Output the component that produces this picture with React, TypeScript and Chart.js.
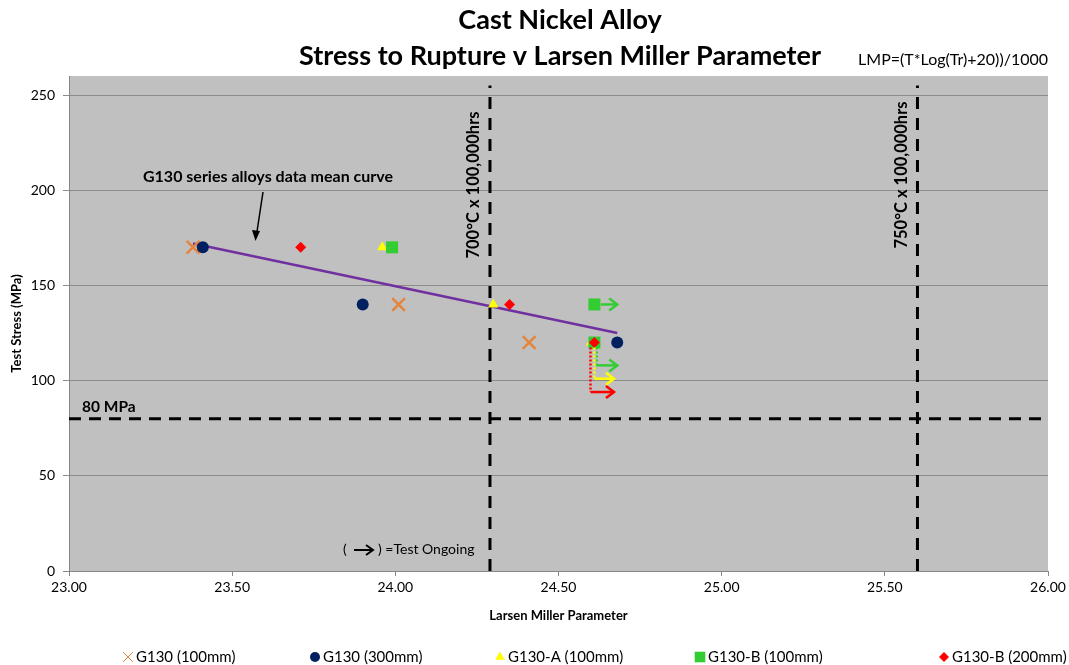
import React, { useEffect, useRef } from 'react';
import { Chart, registerables } from 'chart.js';
import { drawPoint } from 'chart.js/helpers';

Chart.register(...registerables);

// ---------- data ----------
const seriesNames = ['G130 (100mm)', 'G130 (300mm)', 'G130-A (100mm)', 'G130-B (100mm)', 'G130-B (200mm)'];

const g130_100mm_lmp = [23.38, 24.01, 24.41];
const g130_100mm_stress = [170, 140, 120];

const g130_300mm_lmp = [23.41, 23.9, 24.68];
const g130_300mm_stress = [170, 140, 120];

const g130A_100mm_lmp = [23.96, 24.3, 24.6];
const g130A_100mm_stress = [170, 140, 120];

const g130B_100mm_lmp = [23.99, 24.61, 24.61];
const g130B_100mm_stress = [170, 140, 120];

const g130B_200mm_lmp = [23.71, 24.35, 24.61];
const g130B_200mm_stress = [170, 140, 120];

// mean curve
const meanCurveLmp = [23.38, 24.68];
const meanCurveStress = [172, 125];

// reference lines
const line700Lmp = 24.29;
const line750Lmp = 25.6;
const refLineTopStress = 255;
const stressLimit = 80;

// tests ongoing (arrows)
const ongoingSeries = [3, 3, 2, 4];
const ongoingStartLmp = [24.63, 24.617, 24.61, 24.598];
const ongoingStartStress = [140, 120, 120, 120];
const ongoingLevelStress = [140, 108, 101, 94];
const ongoingEndLmp = [24.68, 24.68, 24.67, 24.67];

// axes
const xMin = 23.0;
const xMax = 26.0;
const xStep = 0.5;
const yMin = 0;
const yMax = 260;
const yStep = 50;

// ---------- styles ----------
const FONT = 'Lato, "Open Sans", sans-serif';
const seriesColors = ['#E5853B', '#002060', '#FFFF00', '#33CC33', '#FF0000'];
const seriesStyles = ['crossRot', 'circle', 'triangle', 'rect', 'rectRot'];
const seriesRadius = [9, 6, 6, 8.5, 5.5];
const legendRadius = [7, 5, 5.5, 7.5, 5];
const legendX = [128, 315, 500, 700, 944];

const zip = (xs: number[], ys: number[]) => xs.map((v, i) => ({ x: v, y: ys[i] }));

const seriesData = [
  zip(g130_100mm_lmp, g130_100mm_stress),
  zip(g130_300mm_lmp, g130_300mm_stress),
  zip(g130A_100mm_lmp, g130A_100mm_stress),
  zip(g130B_100mm_lmp, g130B_100mm_stress),
  zip(g130B_200mm_lmp, g130B_200mm_stress),
];

const bgPlugin = {
  id: 'plotBg',
  beforeDraw(chart: any) {
    const { ctx, chartArea: a } = chart;
    ctx.save();
    ctx.fillStyle = '#C0C0C0';
    ctx.fillRect(a.left, a.top, a.right - a.left, a.bottom - a.top);
    ctx.restore();
  },
};

function arrowHead(ctx: CanvasRenderingContext2D, x: number, y: number, dx: number, dy: number, len: number, half: number) {
  const L = Math.hypot(dx, dy);
  const ux = dx / L, uy = dy / L;
  const bx = x - ux * len, by = y - uy * len;
  ctx.beginPath();
  ctx.moveTo(bx - uy * half, by + ux * half);
  ctx.lineTo(x, y);
  ctx.lineTo(bx + uy * half, by - ux * half);
  ctx.stroke();
}

const annotPlugin = {
  id: 'annot',
  afterDatasetsDraw(chart: any) {
    const { ctx, chartArea: a, scales } = chart;
    const xs = scales.x, ys = scales.y;
    ctx.save();
    ctx.lineCap = 'butt';
    // ongoing test arrows
    for (let i = 0; i < ongoingSeries.length; i++) {
      const col = seriesColors[ongoingSeries[i]];
      const px0 = xs.getPixelForValue(ongoingStartLmp[i]);
      const py0 = ys.getPixelForValue(ongoingStartStress[i]);
      const pyl = ys.getPixelForValue(ongoingLevelStress[i]);
      const px1 = xs.getPixelForValue(ongoingEndLmp[i]);
      ctx.strokeStyle = col;
      ctx.lineWidth = 2.5;
      if (Math.abs(pyl - py0) > 1) {
        ctx.setLineDash([2, 2]);
        ctx.beginPath();
        ctx.moveTo(px0, py0 + 5);
        ctx.lineTo(px0, pyl);
        ctx.stroke();
      }
      ctx.setLineDash([]);
      ctx.beginPath();
      ctx.moveTo(px0, pyl);
      ctx.lineTo(px1, pyl);
      ctx.stroke();
      arrowHead(ctx, px1, pyl, 1, 0, 8, 6);
    }

    ctx.fillStyle = '#000';
    ctx.textBaseline = 'middle';
    // 80 MPa label
    ctx.font = `bold 15.5px ${FONT}`;
    ctx.textAlign = 'left';
    ctx.fillText('80 MPa', a.left + 13, ys.getPixelForValue(stressLimit) - 12);

    // vertical labels
    const rot = (text: string, x: number, y: number) => {
      ctx.save();
      ctx.translate(x, y);
      ctx.rotate(-Math.PI / 2);
      ctx.textAlign = 'center';
      ctx.textBaseline = 'middle';
      ctx.fillText(text, 0, 0);
      ctx.restore();
    };
    ctx.font = `bold 16.5px ${FONT}`;
    rot('700°C x 100,000hrs', xs.getPixelForValue(line700Lmp) - 16, 185);
    rot('750°C x 100,000hrs', xs.getPixelForValue(line750Lmp) - 16, 175);

    // mean curve label and pointer
    ctx.textAlign = 'center';
    ctx.font = `bold 16px ${FONT}`;
    ctx.fillText('G130 series alloys data mean curve', 268, 177);
    ctx.strokeStyle = '#000';
    ctx.lineWidth = 1.5;
    ctx.beginPath();
    ctx.moveTo(263, 192);
    ctx.lineTo(256, 238);
    ctx.stroke();
    ctx.fillStyle = '#000';
    ctx.beginPath();
    ctx.moveTo(255.5, 241);
    ctx.lineTo(252, 230);
    ctx.lineTo(260, 231);
    ctx.closePath();
    ctx.fill();

    // test ongoing key
    ctx.font = `14px ${FONT}`;
    ctx.textAlign = 'left';
    ctx.fillText('(', 343, 549);
    ctx.lineWidth = 2;
    ctx.beginPath();
    ctx.moveTo(354, 550);
    ctx.lineTo(372, 550);
    ctx.stroke();
    arrowHead(ctx, 373, 550, 1, 0, 7, 5);
    ctx.fillText(') =Test Ongoing', 378, 549);
    ctx.restore();
  },
  afterDraw(chart: any) {
    const { ctx } = chart;
    ctx.save();
    ctx.fillStyle = '#000';
    ctx.textAlign = 'center';
    ctx.textBaseline = 'middle';
    ctx.font = `bold 27px ${FONT}`;
    ctx.fillText('Cast Nickel Alloy', 560, 20);
    ctx.fillText('Stress to Rupture v Larsen Miller Parameter', 560, 56);
    ctx.font = `16px ${FONT}`;
    ctx.textAlign = 'right';
    ctx.fillText('LMP=(T*Log(Tr)+20))/1000', 1048, 60);

    // legend
    ctx.textAlign = 'left';
    ctx.font = `15px ${FONT}`;
    for (let i = 0; i < seriesNames.length; i++) {
      const cx = legendX[i];
      const cy = 657;
      ctx.fillStyle = seriesColors[i];
      ctx.strokeStyle = seriesColors[i];
      drawPoint(ctx, { pointStyle: seriesStyles[i], radius: legendRadius[i], rotation: 0, borderWidth: i === 0 ? 2.5 : 0 } as any, cx, cy);
      ctx.fillStyle = '#000';
      ctx.fillText(seriesNames[i], cx + 8, cy);
    }
    ctx.restore();
  },
};

export default function App() {
  const ref = useRef<HTMLCanvasElement>(null);
  useEffect(() => {
    document.body.style.margin = '0';
    Chart.defaults.font.family = FONT;
    Chart.defaults.color = '#000';
    const datasets: any[] = [];
    seriesNames.forEach((name, i) => {
      datasets.push({
        label: name,
        data: seriesData[i],
        pointStyle: seriesStyles[i],
        pointRadius: seriesRadius[i],
        pointHoverRadius: seriesRadius[i],
        backgroundColor: seriesColors[i],
        borderColor: seriesColors[i],
        pointBorderWidth: i === 0 ? 2.5 : 0,
        showLine: false,
        order: 5 - i,
      });
    });
    datasets.push({
      label: 'mean curve',
      data: zip(meanCurveLmp, meanCurveStress),
      showLine: true,
      borderColor: '#7030A0',
      borderWidth: 2.5,
      pointRadius: 0,
      order: 7,
    });
    const dashed = { showLine: true, borderColor: '#000', borderWidth: 3, borderDash: [12, 9], pointRadius: 0, order: 6 };
    datasets.push({ label: '700', data: [{ x: line700Lmp, y: yMin }, { x: line700Lmp, y: refLineTopStress }], ...dashed });
    datasets.push({ label: '750', data: [{ x: line750Lmp, y: yMin }, { x: line750Lmp, y: refLineTopStress }], ...dashed });
    datasets.push({ label: '80', data: [{ x: xMin, y: stressLimit }, { x: xMax, y: stressLimit }], ...dashed, borderDash: [12, 8] });

    const chart = new Chart(ref.current!, {
      type: 'scatter',
      data: { datasets },
      plugins: [bgPlugin, annotPlugin],
      options: {
        animation: false,
        responsive: false,
        devicePixelRatio: 1,
        layout: { padding: { top: 76, right: 21, left: 0, bottom: 39 } },
        plugins: { legend: { display: false }, title: { display: false }, tooltip: { enabled: false } },
        scales: {
          x: {
            type: 'linear',
            min: xMin,
            max: xMax,
            afterFit: (s: any) => { s.height = 55; },
            ticks: { stepSize: xStep, callback: (v: any) => Number(v).toFixed(2), font: { size: 14 }, padding: 3, maxRotation: 0 },
            grid: { drawOnChartArea: false, color: '#868686', tickLength: 5 },
            border: { color: '#868686' },
            title: { display: true, text: 'Larsen Miller Parameter', font: { size: 13, weight: 'bold' }, padding: { top: 4, bottom: 2 } },
          },
          y: {
            type: 'linear',
            min: yMin,
            max: yMax,
            afterFit: (s: any) => { s.width = 69; },
            ticks: { stepSize: yStep, includeBounds: false, font: { size: 14 }, padding: 8 },
            grid: { color: '#8C8C8C', tickLength: 6 },
            border: { color: '#868686' },
            title: { display: true, text: 'Test Stress (MPa)', font: { size: 13, weight: 'bold' }, padding: { top: 9, bottom: 4 } },
          },
        },
      },
    });
    return () => chart.destroy();
  }, []);
  return (
    <div style={{ width: 1069, height: 665 }}>
      <canvas ref={ref} width={1069} height={665} style={{ display: 'block' }} />
    </div>
  );
}
